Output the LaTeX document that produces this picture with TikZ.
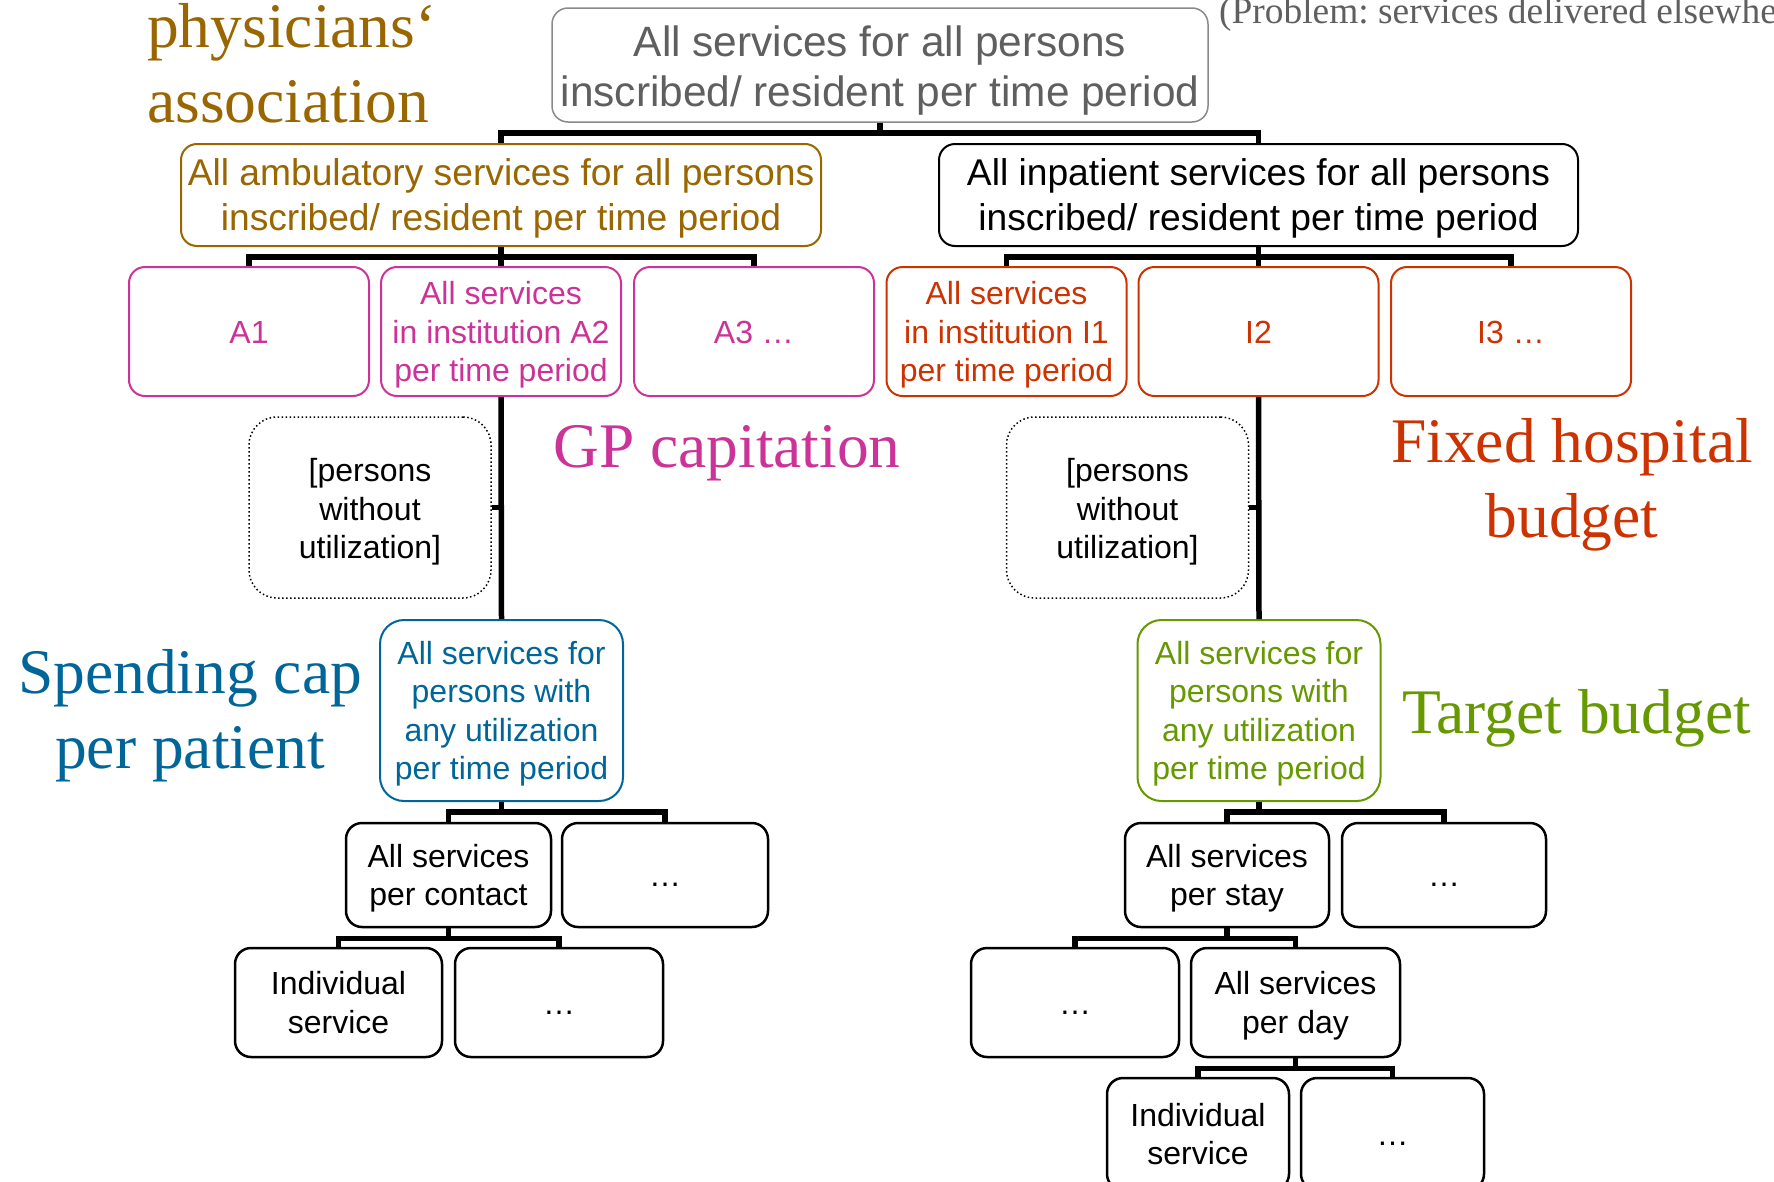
\documentclass[tikz,border=0pt]{standalone}
\usepackage{fontspec}
\setmainfont{Liberation Serif}
\newfontfamily\boxfont{Liberation Sans}
\frenchspacing
% invisible strut opening the first line of a box text (height in em)
\newcommand\boxlead[1][0.94]{\rule{0pt}{#1em}}

\definecolor{assocgold}{HTML}{996600}
\definecolor{gpmagenta}{HTML}{CC3399}
\definecolor{hospred}{HTML}{CC3300}
\definecolor{capblue}{HTML}{006699}
\definecolor{targetgreen}{HTML}{669900}
\definecolor{topgray}{HTML}{5F5F5F}
\definecolor{topborder}{HTML}{8A8A8A}

\begin{document}
\begin{tikzpicture}[x=1pt,y=-1pt,
  % struts give each box text the full ascent of its first line and the
  % full descent of its last line, so the lines sit as in a slide text box
  strutted/.style 2 args={execute at begin node={\rule{0pt}{#1}},
    execute at end node={\rule[-#2]{0pt}{0pt}}},
  box/.style={draw, rounded corners=16pt, line width=2pt, align=center,
    inner sep=0pt, font=\boxfont\fontsize{32}{38.5}\selectfont,
    strutted={30pt}{7pt}},
  bigbox/.style={box, font=\boxfont\fontsize{37.2}{45}\selectfont,
    strutted={34pt}{8pt}},
  topbox/.style={box, draw=topborder, text=topgray, line width=1.5pt,
    font=\boxfont\fontsize{42.4}{50}\selectfont, strutted={42pt}{9pt}},
  lvl/.style={box, minimum width=240pt, minimum height=129pt},
  ambu/.style={lvl, draw=gpmagenta, text=gpmagenta},
  inst/.style={lvl, draw=hospred, text=hospred},
  dotbox/.style={box, dash pattern=on 1.5pt off 2.5pt, line width=1.5pt,
    rounded corners=28pt, minimum width=242pt, minimum height=181pt,
    strutted={32pt}{7pt}},
  utilbox/.style={box, rounded corners=24pt, minimum width=243pt, minimum height=181pt},
  leafbox/.style={box, line width=2.5pt, minimum height=104pt},
  conn/.style={line width=5.5pt, line join=miter},
  label/.style={inner sep=0pt, font=\fontsize{63.5}{75}\selectfont}
]
\useasboundingbox (0,0) rectangle (1774,1181);
\clip (0,0) rectangle (1774,1181);
\fill[white] (0,0) rectangle (1774,1181);

% root and the two sectors
\node[topbox, minimum width=656pt, minimum height=114pt] (root) at (880,65)
  {\boxlead[1.0]All services for all persons\\inscribed/ resident per time period};
\node[bigbox, draw=assocgold, text=assocgold, minimum width=640pt, minimum height=102pt] (amb) at (501,195)
  {\boxlead[0.92]All ambulatory services for all persons\\inscribed/ resident per time period};
\node[bigbox, minimum width=639pt, minimum height=102pt] (inp) at (1258.5,195)
  {\boxlead[0.92]All inpatient services for all persons\\inscribed/ resident per time period};

% institutions
\node[ambu] (A1) at (249,331.5) {A1};
\node[ambu] (A2) at (501,331.5) {\boxlead All services\\in institution A2\\per time period};
\node[ambu] (A3) at (754,331.5) {A3 …};
\node[inst] (I1) at (1006.5,331.5) {\boxlead All services\\in institution I1\\per time period};
\node[inst] (I2) at (1258.5,331.5) {I2};
\node[inst] (I3) at (1511,331.5) {I3 …};

% persons without utilization
\node[dotbox] (noneA) at (370,507.5) {\boxlead[1.01][persons\\without\\utilization]};
\node[dotbox] (noneI) at (1127.5,507.5) {\boxlead[1.01][persons\\without\\utilization]};

% persons with utilization
\node[utilbox, draw=capblue, text=capblue] (useA) at (501.5,710.5)
  {\boxlead All services for\\persons with\\any utilization\\per time period};
\node[utilbox, draw=targetgreen, text=targetgreen] (useI) at (1259,710.5)
  {\boxlead All services for\\persons with\\any utilization\\per time period};

% ambulatory branch
\node[leafbox, minimum width=205pt] (contact) at (448.5,875) {\boxlead All services\\per contact};
\node[leafbox, minimum width=206pt] (moreA) at (665,875) {…};
\node[leafbox, minimum width=207pt, minimum height=109pt] (indA) at (338.5,1002.5) {\boxlead Individual\\service};
\node[leafbox, minimum width=208pt, minimum height=109pt] (moreC) at (559,1002.5) {…};

% inpatient branch
\node[leafbox, minimum width=204pt] (stay) at (1227,875) {\boxlead All services\\per stay};
\node[leafbox, minimum width=204pt] (moreI) at (1444,875) {…};
\node[leafbox, minimum width=208pt, minimum height=109pt] (moreS) at (1075,1002.5) {…};
\node[leafbox, minimum width=209pt, minimum height=109pt] (day) at (1295.5,1002.5) {\boxlead All services\\per day};
\node[leafbox, minimum width=182pt, minimum height=112pt] (indI) at (1198,1134) {\boxlead Individual\\service};
\node[leafbox, minimum width=183pt, minimum height=112pt] (moreD) at (1392.5,1134) {…};

% tree connectors
\foreach \p/\c in {root/amb, root/inp, amb/A1, amb/A2, amb/A3, inp/I1, inp/I2, inp/I3,
                   useA/contact, useA/moreA, contact/indA, contact/moreC,
                   useI/stay, useI/moreI, stay/moreS, stay/day, day/indI, day/moreD}
  \draw[conn] (\p.south) -- ++(0,10) -| (\c.north);
\draw[conn] (A2.south) -- (useA.north);
\draw[conn] (I2.south) -- (useI.north);
\draw[conn] (noneA.east) -- (noneA.east -| A2.south);
\draw[conn] (noneI.east) -- (noneI.east -| I2.south);

% payment labels (base anchor = baseline of the last line)
\node[label, text=assocgold, anchor=base west, align=left] (assoc) at (147,122)
  {physicians‘\\association};
\node[label, text=gpmagenta, anchor=base west] (gp) at (553,467) {GP capitation};
\node[label, text=hospred, anchor=base, align=center] (fixed) at (1572,537)
  {Fixed hospital\\budget};
\node[label, text=capblue, anchor=base, align=center] (cap) at (190,768)
  {Spending cap\\per patient};
\node[label, text=targetgreen, anchor=base west] (target) at (1402,733) {Target budget};
\node[inner sep=0pt, text=topgray, anchor=base west, font=\fontsize{37.4}{45}\selectfont] (problem)
  at (1219,23) {(Problem: services delivered elsewhe};
\end{tikzpicture}
\end{document}
